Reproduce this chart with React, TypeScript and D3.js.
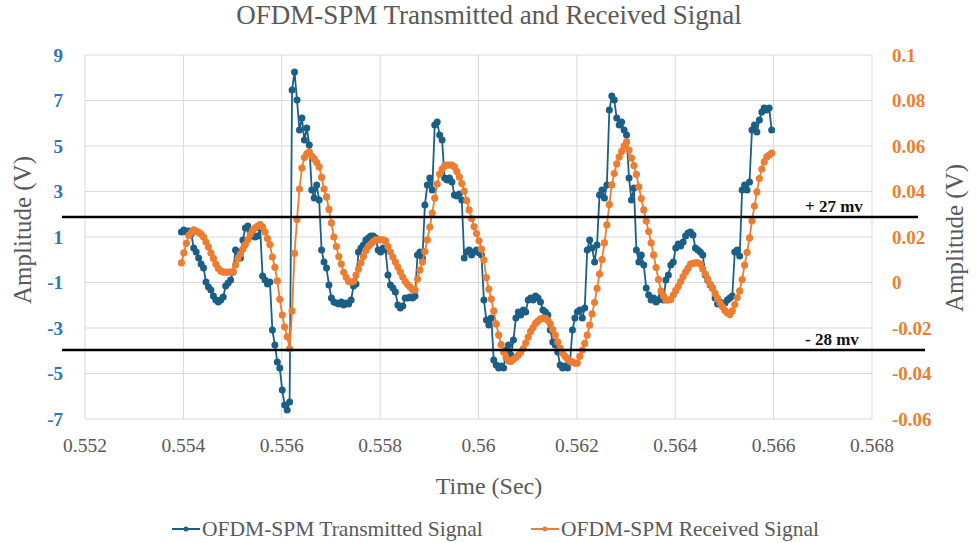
import React from 'react';
import * as d3 from 'd3';

const xTicks = [0.552, 0.554, 0.556, 0.558, 0.56, 0.562, 0.564, 0.566, 0.568];
const xTickLabels = ['0.552', '0.554', '0.556', '0.558', '0.56', '0.562', '0.564', '0.566', '0.568'];
const leftTicks = [-7, -5, -3, -1, 1, 3, 5, 7, 9];
const rightTicks = [-0.06, -0.04, -0.02, 0, 0.02, 0.04, 0.06, 0.08, 0.1];
const rightTickLabels = ['-0.06', '-0.04', '-0.02', '0', '0.02', '0.04', '0.06', '0.08', '0.1'];
const thresholdValues = [0.0288, -0.0297];
const thresholdLabels = ['+ 27 mv', '- 28 mv'];
const seriesNames = ['OFDM-SPM Transmitted Signal', 'OFDM-SPM Received Signal'];

const tStart = 0.55396;
const tStep = 0.00005;

const transmitted = [
  1.22, 1.31, 1.22, 1.26, 1.13, 0.52, 0.34, 0.08, -0.19, -0.36,
  -0.98, -1.20, -1.33, -1.59, -1.77, -1.86, -1.77, -1.64, -1.15, -1.02,
  -0.89, -0.54, 0.43, 0.34, 0.08, 0.87, 1.40, 1.48, 1.22, 1.04,
  1.00, 1.04, 1.40, -0.71, -0.89, -1.07, -0.98, -3.09, -3.75, -4.49,
  -4.76, -5.73, -6.38, -6.60, -6.25, 7.46, 8.25, 7.02, 5.70, 6.23,
  5.26, 5.79, 5.04, 3.07, 2.71, 3.29, 2.63, 0.43, -0.10, -0.36,
  -1.11, -1.68, -1.86, -1.90, -1.95, -1.86, -1.99, -1.90, -1.95, -1.77,
  -1.15, -1.07, 0.34, 0.52, 0.65, 0.87, 0.96, 1.04, 1.04, 0.96,
  0.43, 0.34, 0.52, 0.43, -0.67, -1.11, -1.24, -1.42, -1.99, -2.12,
  -2.03, -1.68, -1.68, -1.64, -1.68, -1.59, 0.21, 0.34, 0.08, 2.41,
  3.29, 3.59, 3.07, 5.92, 6.05, 5.48, 5.26, 3.59, 3.51, 3.59,
  3.42, 2.85, 2.80, 2.89, 2.63, 0.08, 0.34, 0.43, 0.21, 0.34,
  0.43, 0.30, 0.21, -1.77, -2.65, -2.87, -2.56, -4.41, -4.63, -4.76,
  -4.67, -4.76, -3.97, -3.75, -4.19, -3.53, -2.56, -2.30, -2.43, -2.21,
  -2.30, -1.77, -1.68, -1.77, -1.59, -1.68, -1.86, -2.21, -2.30, -2.43,
  -3.09, -3.62, -3.75, -4.06, -4.63, -4.76, -4.67, -4.76, -4.49, -3.09,
  -2.56, -2.30, -2.21, -2.56, -2.12, 0.43, 0.87, 0.52, -0.10, 0.65,
  2.85, 3.07, 2.71, 3.29, 6.58, 7.20, 7.02, 6.23, 5.92, 6.05,
  5.70, 5.48, 3.59, 2.63, 3.15, 0.43, -0.10, 0.21, -0.23, -1.24,
  -1.55, -1.77, -1.68, -1.86, -1.77, -1.64, -1.77, -0.89, -0.67, -0.23,
  -0.10, 0.52, 0.69, 0.60, 0.78, 1.04, 1.18, 1.22, 1.09, 0.52,
  0.43, 0.34, 0.21, -0.67, -0.89, -1.11, -1.24, -1.68, -1.95, -1.86,
  -2.03, -1.90, -1.77, -1.68, -1.59, 0.34, 0.43, 0.17, 3.07, 3.29,
  3.07, 3.42, 5.70, 5.92, 5.62, 6.14, 6.49, 6.67, 6.58, 6.67,
  5.70,
];

const received = [
  0.0086, 0.0130, 0.0172, 0.0207, 0.0219, 0.0231, 0.0226, 0.0220, 0.0213, 0.0200,
  0.0178, 0.0156, 0.0130, 0.0106, 0.0081, 0.0062, 0.0051, 0.0046, 0.0046, 0.0046,
  0.0046, 0.0048, 0.0077, 0.0103, 0.0125, 0.0147, 0.0167, 0.0189, 0.0211, 0.0229,
  0.0240, 0.0248, 0.0255, 0.0244, 0.0222, 0.0193, 0.0167, 0.0112, 0.0067, 0.0007,
  -0.0074, -0.0143, -0.0196, -0.0239, -0.0292, -0.0125, 0.0128, 0.0277, 0.0411, 0.0503,
  0.0549, 0.0567, 0.0574, 0.0556, 0.0543, 0.0528, 0.0508, 0.0462, 0.0411, 0.0376,
  0.0321, 0.0262, 0.0200, 0.0158, 0.0114, 0.0081, 0.0045, 0.0023, 0.0004, 0.0002,
  0.0005, 0.0033, 0.0059, 0.0086, 0.0114, 0.0141, 0.0158, 0.0169, 0.0180, 0.0187,
  0.0187, 0.0187, 0.0187, 0.0183, 0.0158, 0.0134, 0.0112, 0.0090, 0.0068, 0.0046,
  0.0024, 0.0004, -0.0009, -0.0020, -0.0031, -0.0033, 0.0015, 0.0055, 0.0090, 0.0136,
  0.0187, 0.0244, 0.0305, 0.0371, 0.0433, 0.0477, 0.0499, 0.0512, 0.0516, 0.0516,
  0.0516, 0.0508, 0.0488, 0.0464, 0.0435, 0.0402, 0.0360, 0.0319, 0.0281, 0.0246,
  0.0215, 0.0183, 0.0147, 0.0099, 0.0022, -0.0029, -0.0073, -0.0125, -0.0182, -0.0231,
  -0.0273, -0.0306, -0.0330, -0.0345, -0.0347, -0.0338, -0.0330, -0.0319, -0.0306, -0.0290,
  -0.0266, -0.0240, -0.0215, -0.0198, -0.0180, -0.0169, -0.0160, -0.0157, -0.0158, -0.0167,
  -0.0182, -0.0207, -0.0231, -0.0261, -0.0288, -0.0310, -0.0325, -0.0336, -0.0347, -0.0349,
  -0.0354, -0.0354, -0.0325, -0.0297, -0.0268, -0.0231, -0.0187, -0.0138, -0.0088, -0.0026,
  0.0037, 0.0101, 0.0174, 0.0253, 0.0343, 0.0429, 0.0479, 0.0521, 0.0552, 0.0576,
  0.0600, 0.0618, 0.0582, 0.0547, 0.0514, 0.0475, 0.0420, 0.0369, 0.0319, 0.0270,
  0.0224, 0.0174, 0.0121, 0.0066, 0.0013, -0.0037, -0.0059, -0.0077, -0.0077, -0.0075,
  -0.0055, -0.0035, -0.0018, 0.0004, 0.0026, 0.0046, 0.0063, 0.0081, 0.0084, 0.0086,
  0.0086, 0.0081, 0.0059, 0.0037, 0.0015, -0.0007, -0.0026, -0.0048, -0.0070, -0.0090,
  -0.0106, -0.0123, -0.0134, -0.0141, -0.0125, -0.0097, -0.0066, -0.0037, 0.0013, 0.0077,
  0.0132, 0.0196, 0.0271, 0.0336, 0.0398, 0.0457, 0.0499, 0.0530, 0.0552, 0.0560,
  0.0569,
];

const W = 978;
const H = 543;
const PL = 85, PR = 872, PT = 55, PB = 419;
const BLUE = '#1B5F86';
const ORANGE = '#ED7D31';
const BLUE_TXT = '#2E75B6';
const GRAY = '#595959';
const GRID = '#D9D9D9';
const FONT = '"Liberation Serif", "Times New Roman", serif';

export default function App() {
  const x = d3.scaleLinear().domain([0.552, 0.568]).range([PL, PR]);
  const yL = d3.scaleLinear().domain([-7, 9]).range([PB, PT]);
  const yR = d3.scaleLinear().domain([-0.06, 0.1]).range([PB, PT]);

  const tTimes = transmitted.map((_, i) => tStart + i * tStep);
  const rTimes = received.map((_, i) => tStart + i * tStep);

  const lineT = d3.line<number>().x((_, i) => x(tTimes[i])).y((d) => yL(d));
  const lineR = d3.line<number>().x((_, i) => x(rTimes[i])).y((d) => yR(d));

  const thresholdX = [[62, 918], [62, 925]];

  return (
    <svg width={W} height={H} style={{ position: 'absolute', left: 0, top: 0, background: '#fff' }} fontFamily={FONT}>
      <rect x={0} y={0} width={W} height={H} fill="#fff" />
      <text x={489} y={24} textAnchor="middle" fontSize={27} fill={GRAY}>
        OFDM-SPM Transmitted and Received Signal
      </text>

      {leftTicks.map((t) => (
        <line key={'h' + t} x1={PL} x2={PR} y1={yL(t)} y2={yL(t)} stroke={GRID} strokeWidth={1} />
      ))}
      {xTicks.map((t) => (
        <line key={'v' + t} x1={x(t)} x2={x(t)} y1={PT} y2={PB} stroke={GRID} strokeWidth={1} />
      ))}

      {leftTicks.map((t) => (
        <text key={'lt' + t} x={63} y={yL(t)} dy="0.35em" textAnchor="end" fontSize={19} fontWeight="bold" fill={BLUE_TXT}>
          {t}
        </text>
      ))}
      {rightTicks.map((t, i) => (
        <text key={'rt' + t} x={892} y={yR(t)} dy="0.35em" textAnchor="start" fontSize={19} fontWeight="bold" fill={ORANGE}>
          {rightTickLabels[i]}
        </text>
      ))}
      {xTicks.map((t, i) => (
        <text key={'xt' + t} x={x(t)} y={452} textAnchor="middle" fontSize={19.5} fill={GRAY}>
          {xTickLabels[i]}
        </text>
      ))}

      <text transform={`translate(31,230) rotate(-90)`} textAnchor="middle" fontSize={25} fill={GRAY}>
        Amplitude (V)
      </text>
      <text transform={`translate(963,238) rotate(-90)`} textAnchor="middle" fontSize={25} fill={GRAY}>
        Amplitude (V)
      </text>
      <text x={489} y={494} textAnchor="middle" fontSize={24} fill={GRAY}>
        Time (Sec)
      </text>

      <path d={lineT(transmitted) || ''} fill="none" stroke={BLUE} strokeWidth={1.8} />
      {transmitted.map((d, i) => (
        <circle key={'tc' + i} cx={x(tTimes[i])} cy={yL(d)} r={3.5} fill={BLUE} />
      ))}

      <path d={lineR(received) || ''} fill="none" stroke={ORANGE} strokeWidth={1.8} />
      {received.map((d, i) => (
        <circle key={'rc' + i} cx={x(rTimes[i])} cy={yR(d)} r={3.6} fill={ORANGE} />
      ))}

      {thresholdValues.map((v, i) => (
        <g key={'th' + i}>
          <line x1={thresholdX[i][0]} x2={thresholdX[i][1]} y1={yR(v)} y2={yR(v)} stroke="#000" strokeWidth={2.6} />
          <text x={805} y={yR(v) - 5} fontSize={17} fontWeight="bold" fill="#111">
            {thresholdLabels[i]}
          </text>
        </g>
      ))}

      <g>
        <line x1={172} x2={200} y1={529} y2={529} stroke={BLUE} strokeWidth={2} />
        <circle cx={186} cy={529} r={2.5} fill={BLUE} />
        <text x={202} y={536} fontSize={21.5} fill={GRAY}>{seriesNames[0]}</text>
        <line x1={531} x2={559} y1={529} y2={529} stroke={ORANGE} strokeWidth={2} />
        <circle cx={545} cy={529} r={2.5} fill={ORANGE} />
        <text x={561} y={536} fontSize={21.5} fill={GRAY}>{seriesNames[1]}</text>
      </g>
    </svg>
  );
}
